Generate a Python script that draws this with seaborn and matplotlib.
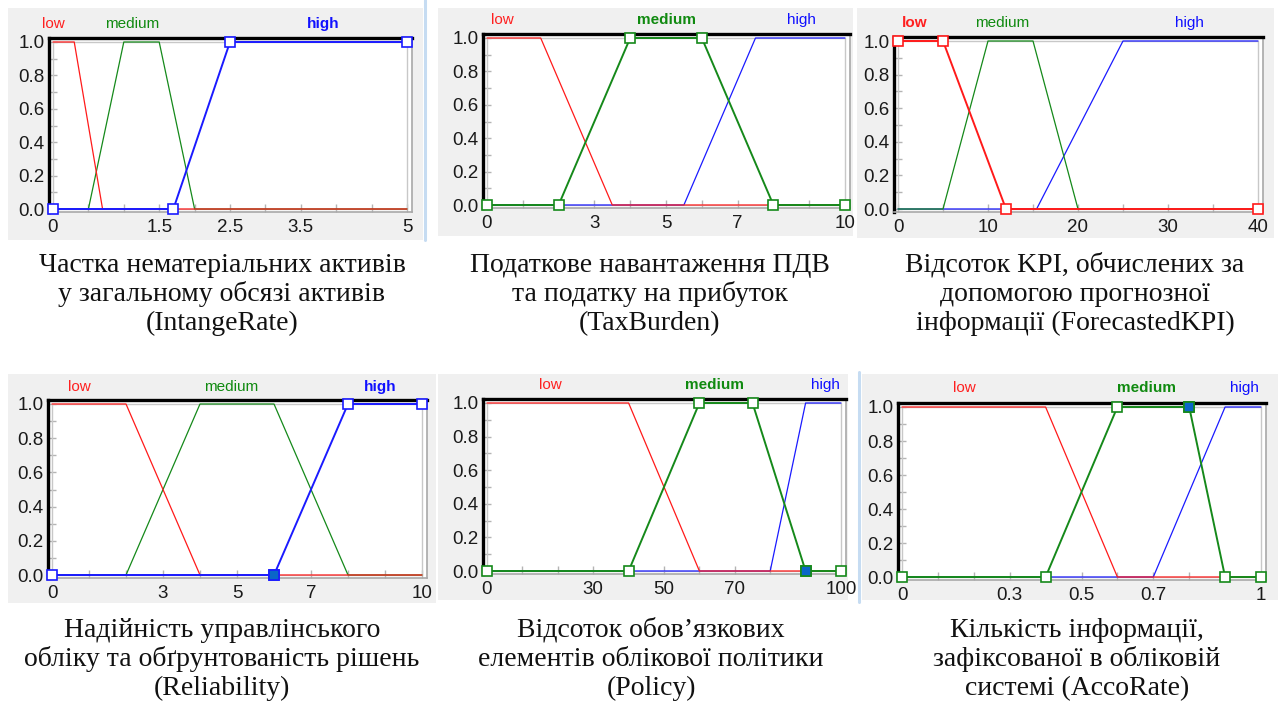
import matplotlib
matplotlib.use("Agg")
import matplotlib.pyplot as plt
from matplotlib.patches import Rectangle
from matplotlib.lines import Line2D
from matplotlib.ticker import FixedLocator, MultipleLocator, FixedFormatter
import pandas as pd
import seaborn as sns

# ---- membership functions, trapezoids [a, b, c, d] ----
term_names = ["low", "medium", "high"]

intange_range = [0, 5]
intange_low = [0, 0, 0.3, 0.7]
intange_medium = [0.5, 1.0, 1.5, 2.0]
intange_high = [1.7, 2.5, 5, 5]
intange_ticks = [0, 1.5, 2.5, 3.5, 5]
intange_tick_labels = ["0", "1.5", "2.5", "3.5", "5"]

tax_range = [0, 10]
tax_low = [0, 0, 1.5, 3.5]
tax_medium = [2, 4, 6, 8]
tax_high = [5.5, 7.5, 10, 10]
tax_ticks = [0, 3, 5, 7, 10]
tax_tick_labels = ["0", "3", "5", "7", "10"]

kpi_range = [0, 40]
kpi_low = [0, 0, 5, 12]
kpi_medium = [5, 10, 15, 20]
kpi_high = [15.4, 25, 40, 40]
kpi_ticks = [0, 10, 20, 30, 40]
kpi_tick_labels = ["0", "10", "20", "30", "40"]

rel_range = [0, 10]
rel_low = [0, 0, 2, 4]
rel_medium = [2, 4, 6, 8]
rel_high = [6, 8, 10, 10]
rel_ticks = [0, 3, 5, 7, 10]
rel_tick_labels = ["0", "3", "5", "7", "10"]

policy_range = [0, 100]
policy_low = [0, 0, 40, 60]
policy_medium = [40, 60, 75, 90]
policy_high = [80, 90, 100, 100]
policy_ticks = [0, 30, 50, 70, 100]
policy_tick_labels = ["0", "30", "50", "70", "100"]

acco_range = [0, 1]
acco_low = [0, 0, 0.4, 0.6]
acco_medium = [0.4, 0.6, 0.8, 0.9]
acco_high = [0.7, 0.9, 1, 1]
acco_ticks = [0, 0.3, 0.5, 0.7, 1]
acco_tick_labels = ["0", "0.3", "0.5", "0.7", "1"]

captions = [
    ["Частка нематеріальних активів", "у загальному обсязі активів", "(IntangeRate)"],
    ["Податкове навантаження ПДВ", "та податку на прибуток", "(TaxBurden)"],
    ["Відсоток KPI, обчислених за", "допомогою прогнозної", "інформації (ForecastedKPI)"],
    ["Надійність управлінського", "обліку та обґрунтованість рішень", "(Reliability)"],
    ["Відсоток обов’язкових", "елементів облікової політики", "(Policy)"],
    ["Кількість інформації,", "зафіксованої в обліковій", "системі (AccoRate)"],
]

# ---- styling ----
sns.set_style("white")
plt.rcParams["font.family"] = ["Liberation Sans", "DejaVu Sans"]

W, H = 1278, 711
fig = plt.figure(figsize=(W / 100, H / 100), dpi=100)
fig.patch.set_facecolor("white")

line_colors = {"low": "#ff1a1a", "medium": "#15891a", "high": "#1a1aff"}
label_colors = {"low": "#ff2020", "medium": "#108a10", "high": "#1010ff"}
active_fill = "#0a66c8"

# panel layout (pixels): background box, data anchors (x at min/max, y at 1/0),
# term label positions, minor tick step, selected term, active vertex, caption
panels = [
    dict(box=(8, 8, 423, 240), anchors=(53, 407, 42, 209), rng=intange_range,
         terms=[intange_low, intange_medium, intange_high],
         ticks=intange_ticks, tick_labels=intange_tick_labels, minor=0.5,
         label_x=[0.0, 1.12, 3.81], label_y=24, selected="high", active=None,
         cap_x=222, cap_y=[272, 301, 330]),
    dict(box=(438, 8, 853, 236), anchors=(487, 845, 38, 205), rng=tax_range,
         terms=[tax_low, tax_medium, tax_high],
         ticks=tax_ticks, tick_labels=tax_tick_labels, minor=1,
         label_x=[0.43, 5.0, 8.78], label_y=20, selected="medium", active=None,
         cap_x=650, cap_y=[272, 301, 330]),
    dict(box=(857, 8, 1274, 238), anchors=(898, 1258, 41, 209), rng=kpi_range,
         terms=[kpi_low, kpi_medium, kpi_high],
         ticks=kpi_ticks, tick_labels=kpi_tick_labels, minor=5,
         label_x=[1.8, 11.6, 32.4], label_y=23, selected="low", active=None,
         cap_x=1075, cap_y=[272, 301, 330]),
    dict(box=(8, 374, 436, 603), anchors=(52, 422, 404, 575), rng=rel_range,
         terms=[rel_low, rel_medium, rel_high],
         ticks=rel_ticks, tick_labels=rel_tick_labels, minor=1,
         label_x=[0.73, 4.84, 8.86], label_y=387, selected="high", active=(6, 0),
         cap_x=222, cap_y=[637, 666, 695]),
    dict(box=(438, 374, 848, 600), anchors=(487, 841, 403, 571), rng=policy_range,
         terms=[policy_low, policy_medium, policy_high],
         ticks=policy_ticks, tick_labels=policy_tick_labels, minor=10,
         label_x=[17.8, 64.4, 95.5], label_y=385, selected="medium", active=(90, 0),
         cap_x=651, cap_y=[637, 666, 695]),
    dict(box=(862, 374, 1278, 600), anchors=(902, 1261, 407, 577), rng=acco_range,
         terms=[acco_low, acco_medium, acco_high],
         ticks=acco_ticks, tick_labels=acco_tick_labels, minor=0.1,
         label_x=[0.175, 0.68, 0.955], label_y=388, selected="medium", active=(0.8, 1),
         cap_x=1077, cap_y=[637, 666, 695]),
]


def term_polyline(p, lo, hi):
    a, b, c, d = p
    pts = []
    if b > lo:
        pts.append((lo, 0))
        if a > lo:
            pts.append((a, 0))
    pts.append((b, 1))
    if c > b:
        pts.append((c, 1))
    if c < hi:
        pts.append((d, 0))
        if d < hi:
            pts.append((hi, 0))
    return pd.DataFrame(pts, columns=["x", "y"])


# grey window backgrounds and thin blue separators
for p in panels:
    x0, y0, x1, y1 = p["box"]
    fig.patches.append(Rectangle((x0 / W, 1 - y1 / H), (x1 - x0) / W, (y1 - y0) / H,
                                 transform=fig.transFigure, facecolor="#f0f0f0",
                                 edgecolor="none", zorder=-5))
for xs, ys in [((425, 425), (0, 240)), ((859, 859), (372, 602))]:
    fig.lines.append(Line2D([xs[0] / W, xs[1] / W], [1 - ys[0] / H, 1 - ys[1] / H],
                            transform=fig.transFigure, color="#c6dcf2", lw=2.2))

PAD_L, PAD_R, PAD_T, PAD_B = 4, 5, 4, 3

for idx, p in enumerate(panels):
    px0, px1, py1, py0 = p["anchors"]
    lo, hi = p["rng"]
    left, right = px0 - PAD_L, px1 + PAD_R
    top, bottom = py1 - PAD_T, py0 + PAD_B
    ax = fig.add_axes([left / W, 1 - bottom / H, (right - left) / W, (bottom - top) / H])
    ax.set_facecolor("white")
    ux = (hi - lo) / (px1 - px0)
    uy = 1.0 / (py0 - py1)
    ax.set_xlim(lo - PAD_L * ux, hi + PAD_R * ux)
    ax.set_ylim(-PAD_B * uy, 1 + PAD_T * uy)

    # frame: dark top/left, grey bottom/right, light box around the data range
    for side in ["top", "left"]:
        ax.spines[side].set_color("#000000")
        ax.spines[side].set_linewidth(2.4)
    for side in ["bottom", "right"]:
        ax.spines[side].set_color("#a8a8a8")
        ax.spines[side].set_linewidth(1.2)
    for side in ax.spines:
        ax.spines[side].set_visible(True)
    ax.plot([lo, hi, hi, lo, lo], [0, 0, 1, 1, 0], color="#c8c8c8", lw=1.0, zorder=1)

    ax.xaxis.set_major_locator(FixedLocator(p["ticks"]))
    ax.xaxis.set_major_formatter(FixedFormatter(p["tick_labels"]))
    ax.xaxis.set_minor_locator(MultipleLocator(p["minor"]))
    ax.yaxis.set_major_locator(MultipleLocator(0.2))
    ax.yaxis.set_minor_locator(MultipleLocator(0.1))
    ax.yaxis.set_major_formatter(plt.FuncFormatter(lambda v, _: f"{v:.1f}"))
    ax.tick_params(which="both", direction="in", length=6, width=1, color="#b4b4b4",
                   bottom=True, left=True, top=False, right=False)
    ax.tick_params(axis="y", which="major", pad=3, labelsize=13.5, labelcolor="#1a1a1a")
    ax.tick_params(axis="x", which="major", pad=5, labelsize=13.5, labelcolor="#1a1a1a")

    sel = p["selected"]
    order = [n for n in ["high", "medium", "low"] if n != sel] + [sel]
    for z, name in enumerate(order):
        params = p["terms"][term_names.index(name)]
        df = term_polyline(params, lo, hi)
        is_sel = name == sel
        kw = dict(marker="s", markersize=7, markerfacecolor="white",
                  markeredgecolor=line_colors[name], markeredgewidth=1.2) if is_sel else {}
        sns.lineplot(data=df, x="x", y="y", sort=False, estimator=None, ax=ax,
                     color=line_colors[name], lw=1.4 if is_sel else 0.9,
                     zorder=3 + z, clip_on=False, **kw)
    if p["active"] is not None:
        ax.plot([p["active"][0]], [p["active"][1]], marker="s", markersize=7,
                markerfacecolor=active_fill, markeredgecolor=line_colors[sel],
                markeredgewidth=1.2, zorder=10, clip_on=False)
    ax.set_xlabel("")
    ax.set_ylabel("")

    # term names above the frame
    for name, lx in zip(term_names, p["label_x"]):
        ax.annotate(name, xy=(lx, 1), xycoords=("data", "axes fraction"),
                    xytext=(0, (top - p["label_y"]) * 0.72), textcoords="offset points",
                    ha="center", va="center", color=label_colors[name],
                    fontsize=11, fontweight="bold" if name == sel else "normal",
                    annotation_clip=False)

    # caption below the window
    for line, cy in zip(captions[idx], p["cap_y"]):
        fig.text(p["cap_x"] / W, 1 - cy / H, line, ha="center", va="baseline",
                 family=["Liberation Serif", "DejaVu Serif"], fontsize=20, color="#111111")

fig.savefig("out.png", dpi=100, facecolor="white")
